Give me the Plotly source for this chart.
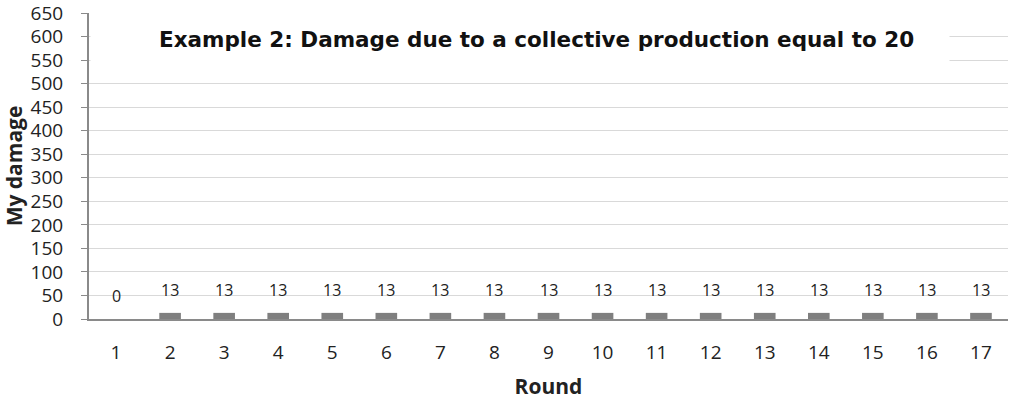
import plotly.graph_objects as go

rounds = list(range(1, 18))
damage = [0] + [13] * 16
y_ticks = list(range(0, 651, 50))

LABEL_FONT = "Open Sans"
TITLE_FONT = "DejaVu Sans"
TXT = "#222222"

fig = go.Figure()
fig.add_trace(go.Bar(
    x=rounds, y=damage, width=0.4,
    marker=dict(color="#7f7f7f", line=dict(width=0)),
    hoverinfo="skip",
))

# value labels above each bar
for r, v in zip(rounds, damage):
    fig.add_annotation(
        x=r, y=v, text=str(v), showarrow=False,
        yanchor="bottom", yshift=10,
        font=dict(family=LABEL_FONT, size=16, color=TXT),
    )

# white box behind the title covers the upper gridlines
fig.add_annotation(
    xref="paper", yref="paper", x=0.001, y=1.03,
    xanchor="left", yanchor="top",
    text=" ", width=858, height=66, borderpad=0,
    bgcolor="white", showarrow=False,
)
fig.add_annotation(
    xref="paper", yref="paper", x=0.487, y=0.915,
    text="<b>Example 2: Damage due to a collective production equal to 20</b>",
    showarrow=False, xanchor="center", yanchor="middle",
    font=dict(family=TITLE_FONT, size=21.5, color="#111111"),
)

fig.update_layout(
    width=1017, height=401,
    margin=dict(l=89, r=9, t=13, b=82),
    paper_bgcolor="white", plot_bgcolor="white",
    showlegend=False,
    font=dict(family=LABEL_FONT, color=TXT),
)
fig.update_xaxes(
    range=[0.5, 17.5], tickvals=rounds, ticktext=[str(r) for r in rounds],
    showgrid=False, zeroline=False, automargin=False,
    showline=True, linecolor="#8a8a8a", linewidth=2,
    ticks="", tickfont=dict(family=LABEL_FONT, size=19, color=TXT),
    ticklabelstandoff=15,
    title=dict(text="<b>Round</b>", font=dict(family=LABEL_FONT, size=21, color=TXT), standoff=16),
)
fig.update_yaxes(
    range=[0, 650], tickvals=y_ticks, ticktext=[str(t) for t in y_ticks],
    showgrid=True, gridcolor="#d9d9d9", gridwidth=1,
    showline=True, linecolor="#8a8a8a", linewidth=2,
    ticks="outside", ticklen=6, tickcolor="#8a8a8a", tickwidth=1,
    tickfont=dict(family=LABEL_FONT, size=19, color=TXT),
    ticklabelstandoff=14, ticklabeloverflow="allow",
    zeroline=False, automargin=False,
    title=dict(text="<b>My damage</b>", font=dict(family=LABEL_FONT, size=21, color=TXT), standoff=6),
)

fig.write_html("out.html")
